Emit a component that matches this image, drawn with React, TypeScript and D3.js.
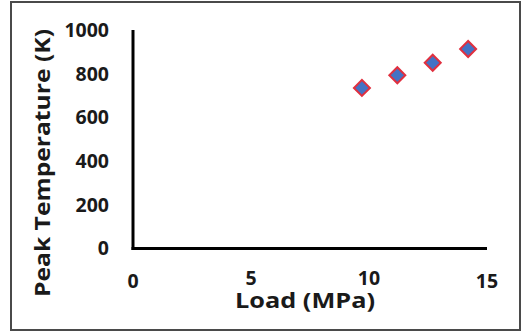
import React from "react";
import * as d3 from "d3";

const loads = [9.7, 11.2, 12.7, 14.2];
const peakTemps = [735, 793, 850, 913];
const xTicks = [0, 5, 10, 15];
const yTicks = [0, 200, 400, 600, 800, 1000];

const W = 521;
const H = 333;
const FONT = "'Open Sans', sans-serif";

export default function App() {
  const x = d3.scaleLinear().domain([0, 15]).range([133, 487]);
  const y = d3.scaleLinear().domain([0, 1000]).range([248.5, 30]);
  const marker = d3.symbol().type(d3.symbolSquare).size(128)() as string;
  const xLabelDy: Record<number, number> = { 0: 0, 5: -3, 10: -3, 15: 0 };
  return (
    <svg width={W} height={H} style={{ position: "absolute", left: 0, top: 0, background: "#fff" }}>
      <rect x={11} y={2} width={509} height={328} fill="#fff" stroke="#4a4a4a" strokeWidth={2} />
      <line x1={x(0)} x2={x(0)} y1={y(1000)} y2={y(0) + 1.5} stroke="#000" strokeWidth={3} />
      <line x1={x(0) - 1.5} x2={x(15)} y1={y(0)} y2={y(0)} stroke="#000" strokeWidth={3} />
      {yTicks.map((t) => (
        <text key={t} x={109} y={y(t)} dy="0.35em" textAnchor="end" fontFamily={FONT} fontWeight={700} fontSize={19.5} fill="#1a1a1a">
          {t}
        </text>
      ))}
      {xTicks.map((t) => (
        <text key={t} x={x(t)} y={281 + xLabelDy[t]} dy="0.35em" textAnchor="middle" fontFamily={FONT} fontWeight={700} fontSize={19.5} fill="#1a1a1a">
          {t}
        </text>
      ))}
      <text x={305} y={308} textAnchor="middle" fontFamily={FONT} fontWeight={700} fontSize={21} fill="#1a1a1a" textLength={140} lengthAdjust="spacingAndGlyphs">
        Load (MPa)
      </text>
      <text transform="translate(50,163) rotate(-90)" textAnchor="middle" fontFamily={FONT} fontWeight={700} fontSize={21} fill="#1a1a1a" textLength={268} lengthAdjust="spacingAndGlyphs">
        Peak Temperature (K)
      </text>
      {loads.map((l, i) => (
        <path key={i} d={marker} transform={`translate(${x(l)},${y(peakTemps[i])}) rotate(45)`} fill="#4472c4" stroke="#e0303f" strokeWidth={2} />
      ))}
    </svg>
  );
}
